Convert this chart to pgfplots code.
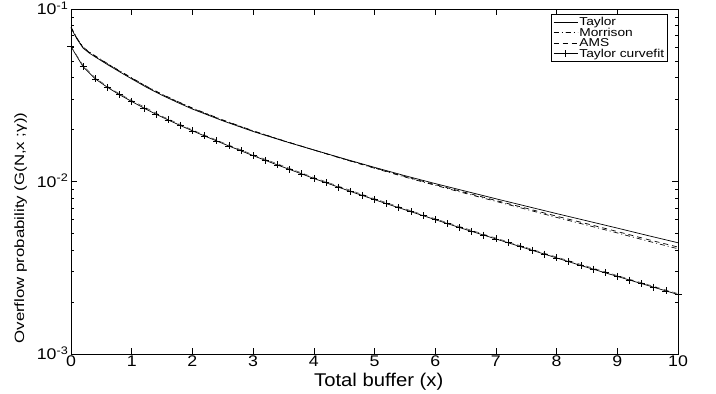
\documentclass[border=0pt]{standalone}
\usepackage{fontspec}
\setmainfont{Liberation Sans}
\usepackage{graphicx}
\usepackage{pgfplots}
\pgfplotsset{compat=1.18}
\newcommand\hs[2]{\scalebox{#1}[1]{#2}}
\newcommand\yl[1]{\hs{1.15}{10\raisebox{5.5bp}{\fontsize{11}{11}\selectfont -#1}}}
\begin{document}
\begin{tikzpicture}
\begin{axis}[
  at={(0,0)}, anchor=south west,
  width=607bp, height=345bp, scale only axis,
  xmin=0, xmax=10, ymode=log, ymin=1e-3, ymax=1e-1,
  axis line style={line width=0.8bp},
  every tick/.style={line width=0.6bp, black},
  major tick length=6bp, minor tick length=3.5bp,
  xtick={0,1,2,3,4,5,6,7,8,9,10},
  xticklabels={\hs{1.15}{0},\hs{1.15}{1},\hs{1.15}{2},\hs{1.15}{3},\hs{1.15}{4},\hs{1.15}{5},\hs{1.15}{6},\hs{1.15}{7},\hs{1.15}{8},\hs{1.15}{9},\hs{1.15}{10}},
  xticklabel style={font=\fontsize{15.5}{15.5}\selectfont, inner sep=0pt, anchor=north, yshift=-1.5bp},
  ytick={1e-3,1e-2,1e-1},
  yticklabels={\yl{3},\yl{2},\yl{1}},
  yticklabel style={font=\fontsize{15.5}{15.5}\selectfont, inner sep=0pt, anchor=base east, xshift=-3bp, yshift=-5.5bp},
  xlabel={\hs{1.1}{Total buffer (x)}},
  xlabel style={font=\fontsize{18.5}{18.5}\selectfont, at={(axis description cs:0.507,0)}, anchor=center, yshift=-28bp},
  ylabel={\hs{1.25}{Overflow probability (G(N,x ;γ))}},
  ylabel style={font=\fontsize{13.5}{13.5}\selectfont, at={(axis description cs:-0.083,0.365)}, anchor=center},
  legend style={at={(0.9835,0.9855)}, anchor=north east, draw=black, line width=0.6bp,
    font=\fontsize{11.5}{11.5}\selectfont, row sep=-2.2bp, inner xsep=2bp, inner ysep=1.5bp,
    nodes={inner sep=1.5bp}},
  legend cell align=left,
  legend image code/.code={\draw[mark repeat=2,mark phase=2,#1] plot coordinates {(0bp,0bp) (12bp,0bp) (24bp,0bp)};},
  clip=true,
]
% Taylor (upper)
\addplot[black, line width=0.7bp] coordinates {
(0,0.07762)(0.1,0.06683)(0.2,0.05929)(0.3,0.05559)(0.4,0.05272)(0.5,0.05012)(0.6,0.04764)(0.8,0.04325)(1.0,0.03936)(1.25,0.03508)(1.5,0.03162)(1.75,0.02877)(2.0,0.02630)(2.5,0.02249)(3.0,0.01950)(3.5,0.01718)(4.0,0.01524)(4.5,0.01355)(5.0,0.01208)(5.5,0.01081)(6.0,0.009727)(6.5,0.008790)(7.0,0.007943)(7.5,0.007194)(8.0,0.006516)(8.5,0.005916)(9.0,0.005370)(9.5,0.004864)(10.0,0.004416)};
\addlegendentry{\hs{1.2}{Taylor}}
% Morrison (upper)
\addplot[black, line width=0.7bp, dash pattern=on 5bp off 3bp on 1bp off 3bp] coordinates {
(0,0.07852)(0.1,0.06761)(0.2,0.06012)(0.3,0.05636)(0.4,0.05346)(0.5,0.05082)(0.6,0.04831)(0.8,0.04385)(1.0,0.03990)(1.25,0.03556)(1.5,0.03206)(1.75,0.02917)(2.0,0.02667)(2.5,0.02275)(3.0,0.01968)(3.5,0.01726)(4.0,0.01524)(4.5,0.01346)(5.0,0.01194)(5.5,0.01062)(6.0,0.009506)(6.5,0.008531)(7.0,0.007674)(7.5,0.006902)(8.0,0.006194)(8.5,0.005585)(9.0,0.005035)(9.5,0.004519)(10.0,0.004074)};
\addlegendentry{\hs{1.2}{Morrison}}
% AMS (upper)
\addplot[black, line width=0.7bp, dash pattern=on 5bp off 4bp] coordinates {
(0,0.07816)(0.1,0.06730)(0.2,0.05984)(0.3,0.05610)(0.4,0.05321)(0.5,0.05058)(0.6,0.04808)(0.8,0.04365)(1.0,0.03972)(1.25,0.03540)(1.5,0.03192)(1.75,0.02904)(2.0,0.02655)(2.5,0.02265)(3.0,0.01963)(3.5,0.01722)(4.0,0.01524)(4.5,0.01349)(5.0,0.01200)(5.5,0.01069)(6.0,0.009594)(6.5,0.008630)(7.0,0.007762)(7.5,0.006998)(8.0,0.006295)(8.5,0.005689)(9.0,0.005129)(9.5,0.004613)(10.0,0.004169)};
\addlegendentry{\hs{1.2}{AMS}}
% Taylor curvefit (lower)
\addplot[black, line width=0.7bp, mark=+, mark size=3.5bp, mark options={line width=0.6bp}] coordinates {
(0,0.06053)(0.2,0.04624)(0.4,0.03936)(0.6,0.03516)(0.8,0.03184)(1.0,0.02911)(1.2,0.02667)(1.4,0.02455)(1.6,0.02275)(1.8,0.02113)(2.0,0.01968)(2.2,0.01837)(2.4,0.01718)(2.6,0.01607)(2.8,0.01507)(3.0,0.01413)(3.2,0.01327)(3.4,0.01247)(3.6,0.01175)(3.8,0.01107)(4.0,0.01042)(4.2,0.009840)(4.4,0.009290)(4.6,0.008770)(4.8,0.008299)(5.0,0.007852)(5.2,0.007430)(5.4,0.007047)(5.6,0.006683)(5.8,0.006339)(6.0,0.006012)(6.2,0.005702)(6.4,0.005408)(6.6,0.005140)(6.8,0.004887)(7.0,0.004645)(7.2,0.004416)(7.4,0.004198)(7.6,0.003990)(7.8,0.003793)(8.0,0.003606)(8.2,0.003428)(8.4,0.003258)(8.6,0.003105)(8.8,0.002958)(9.0,0.002818)(9.2,0.002685)(9.4,0.002559)(9.6,0.002438)(9.8,0.002323)(10.0,0.002213)};
\addlegendentry{\hs{1.2}{Taylor curvefit}}
% lower companion (dashed)
\addplot[black!70, line width=0.6bp, dash pattern=on 5bp off 4bp, forget plot] coordinates {
(0,0.0606)(0.2,0.0470)(0.4,0.0399)(0.6,0.0356)(0.8,0.0322)(1.0,0.0295)(1.5,0.0239)(2.0,0.0199)(2.5,0.0168)(3.0,0.0143)(4.0,0.01055)(5.0,0.00795)(6.0,0.00608)(7.0,0.00470)(8.0,0.00365)(9.0,0.00285)(10.0,0.00224)};
\end{axis}
\pgfresetboundingbox
\path[use as bounding box] (-71bp,-40bp) rectangle (645bp,354bp);
\end{tikzpicture}
\end{document}
